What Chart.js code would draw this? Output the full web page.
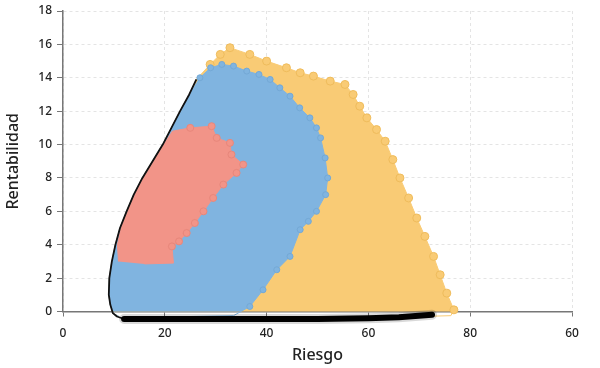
<!DOCTYPE html>
<html>
<head>
<meta charset="utf-8">
<script src="https://cdn.jsdelivr.net/npm/chart.js@4/dist/chart.umd.min.js"></script>
<style>
  html, body { margin: 0; padding: 0; background: #fff; }
  #wrap { width: 600px; height: 368px; position: relative; }
</style>
</head>
<body>
<div id="wrap"><canvas id="myChart"></canvas></div>
<script>
// x axis tick labels as printed on the picture
var xTickLabels = ["0", "20", "40", "60", "80", "60"];

// outer cloud (orange), outline: riesgo / rentabilidad
var orangeRisk = [11.0, 9.8, 9.3, 9.0, 9.1, 9.6, 10.3, 11.2, 12.5, 13.9, 15.6, 17.6, 19.6, 21.3, 23.0, 24.8, 26.2, 28.9, 30.9, 32.8,
    36.7, 40.0, 43.9, 46.6, 49.2, 52.5, 55.4, 57.0, 58.3, 59.7, 61.6, 63.3, 64.8, 66.2, 67.9, 69.5, 71.1, 72.8, 74.1, 75.4, 76.8,
    76.2, 70, 60, 50, 40, 30, 20];
var orangeReturn = [-0.3, -0.1, 0.4, 1.0, 2.0, 3.0, 4.0, 5.0, 6.0, 7.0, 8.0, 9.0, 10.0, 11.0, 12.0, 13.0, 13.9, 14.8, 15.4, 15.8,
    15.4, 15.0, 14.6, 14.3, 14.1, 13.8, 13.6, 13.0, 12.3, 11.6, 10.9, 10.2, 9.1, 8.0, 6.8, 5.6, 4.5, 3.3, 2.2, 1.1, 0.1,
    -0.25, -0.3, -0.3, -0.3, -0.3, -0.3, -0.3];

// middle cloud (blue)
var blueRisk = [11.0, 9.8, 9.3, 9.0, 9.1, 9.6, 10.3, 11.2, 12.5, 13.9, 15.6, 17.6, 19.6, 21.3, 23.0, 24.8, 26.9, 29.0, 31.2, 33.5,
    36.1, 38.5, 40.7, 42.6, 44.6, 46.5, 48.5, 49.8, 50.6, 51.5, 52.0, 51.6, 49.8, 48.2, 46.6, 44.6, 42.0, 39.3, 36.7, 33.5, 25, 18];
var blueReturn = [-0.3, -0.1, 0.4, 1.0, 2.0, 3.0, 4.0, 5.0, 6.0, 7.0, 8.0, 9.0, 10.0, 11.0, 12.0, 13.0, 14.0, 14.6, 14.8, 14.7,
    14.4, 14.2, 13.9, 13.4, 12.9, 12.2, 11.6, 11.0, 10.4, 9.2, 8.0, 7.0, 6.0, 5.4, 4.9, 3.3, 2.5, 1.3, 0.3, -0.25, -0.3, -0.3];

// inner cloud (pink)
var pinkRisk = [10.9, 10.7, 11.4, 12.7, 14.1, 15.8, 17.8, 19.8, 21.5, 25.0, 29.2, 30.2, 32.8, 33.1, 35.4, 34.1, 31.5, 29.5,
    27.6, 25.9, 24.3, 22.8, 21.4, 21.7, 16.0];
var pinkReturn = [3.0, 4.0, 5.0, 6.0, 7.0, 8.0, 9.0, 10.0, 10.8, 11.0, 11.1, 10.4, 10.1, 9.4, 8.8, 8.3, 7.6, 6.8,
    6.0, 5.3, 4.7, 4.2, 3.9, 2.9, 2.85];

// frontier edge (black)
var frontierRisk = [12.0, 10.6, 9.8, 9.3, 9.0, 9.1, 9.6, 10.3, 11.2, 12.5, 13.9, 15.6, 17.6, 19.6, 21.3, 23.0, 24.8, 26.2];
var frontierReturn = [-0.45, -0.3, -0.1, 0.4, 1.0, 2.0, 3.0, 4.0, 5.0, 6.0, 7.0, 8.0, 9.0, 10.0, 11.0, 12.0, 13.0, 13.9];

// bottom band (black)
var bandRisk = [12.0, 20, 30, 40, 50, 60, 66, 72.5];
var bandReturn = [-0.45, -0.45, -0.45, -0.45, -0.45, -0.4, -0.35, -0.2];

function pts(xs, ys) {
    var out = [];
    for (var i = 0; i < xs.length; i++) out.push({ x: xs[i], y: ys[i] });
    return out;
}

// circles only on the outer (upper/right) edge of a cloud
function edgeRadius(from, to, r) {
    return function (ctx) {
        return (ctx.dataIndex >= from && ctx.dataIndex <= to) ? r : 0;
    };
}

var tickFont = { family: "'Noto Sans', sans-serif", size: 12, weight: "500", lineHeight: 1 };
var titleFont = { family: "'Noto Sans', sans-serif", size: 16, weight: "500" };

new Chart("myChart", {
    type: "scatter",
    data: {
        datasets: [{
            data: pts(bandRisk, bandReturn),
            showLine: true,
            borderColor: "#000",
            borderWidth: 6,
            borderCapStyle: "round",
            pointRadius: 0,
            clip: false
        }, {
            data: pts(bandRisk, bandReturn),
            showLine: true,
            borderColor: "rgba(0,0,0,0.15)",
            borderWidth: 10,
            borderCapStyle: "round",
            pointRadius: 0,
            clip: false
        }, {
            data: pts(frontierRisk, frontierReturn),
            showLine: true,
            borderColor: "#111",
            borderWidth: 1.8,
            borderJoinStyle: "round",
            pointRadius: 0,
            clip: false
        }, {
            data: pts(pinkRisk, pinkReturn),
            showLine: true,
            fill: "shape",
            backgroundColor: "#f29488",
            borderColor: "#f29488",
            borderWidth: 1,
            pointRadius: edgeRadius(9, 22, 3.5),
            pointBackgroundColor: "#f29488",
            pointBorderColor: "#e8877b",
            clip: false
        }, {
            data: pts(blueRisk, blueReturn),
            showLine: true,
            fill: "shape",
            backgroundColor: "#80b4e0",
            borderColor: "#80b4e0",
            borderWidth: 1,
            pointRadius: edgeRadius(16, 38, 3),
            pointBackgroundColor: "#80b4e0",
            pointBorderColor: "#74a9d6",
            clip: false
        }, {
            data: pts(orangeRisk, orangeReturn),
            showLine: true,
            fill: "shape",
            backgroundColor: "#f9cb75",
            borderColor: "#f9cb75",
            borderWidth: 1,
            pointRadius: edgeRadius(17, 40, 4),
            pointBackgroundColor: "#f9cb75",
            pointBorderColor: "#efbc5c",
            clip: false
        }]
    },
    options: {
        responsive: true,
        maintainAspectRatio: false,
        animation: false,
        layout: { padding: { left: 0, top: 0, right: 28, bottom: 0 } },
        plugins: {
            legend: { display: false },
            tooltip: { enabled: false }
        },
        scales: {
            x: {
                type: "linear",
                min: 0,
                max: 100,
                ticks: {
                    stepSize: 20,
                    color: "#222",
                    font: tickFont,
                    padding: 11,
                    callback: function (value, index) { return xTickLabels[index]; }
                },
                grid: { color: "#e4e4e4", tickColor: "#777", tickLength: 5 },
                border: { display: true, color: "#777", width: 1.5, dash: [3, 3] },
                title: { display: true, text: "Riesgo", color: "#222", font: titleFont, padding: { top: 0, bottom: 3 } },
                afterFit: function (scale) { scale.height = 56.5; }
            },
            y: {
                min: 0,
                max: 18,
                ticks: { stepSize: 2, color: "#222", font: tickFont, padding: 5 },
                grid: { color: "#e4e4e4", tickColor: "#777", tickLength: 6 },
                border: { display: true, color: "#777", width: 1.5, dash: [3, 3] },
                title: { display: true, text: "Rentabilidad", color: "#222", font: titleFont, padding: { top: 4, bottom: 0 } },
                afterFit: function (scale) { scale.width = 63; }
            }
        }
    }
});
</script>
</body>
</html>
